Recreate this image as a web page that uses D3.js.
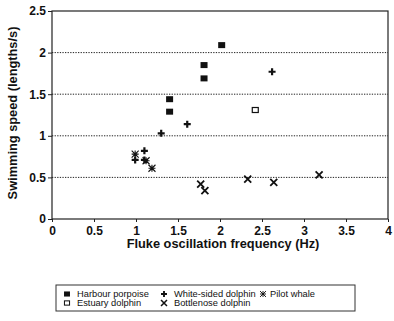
<!DOCTYPE html>
<html>
<head>
<meta charset="utf-8">
<script src="https://cdn.jsdelivr.net/npm/d3@7"></script>
<style>
  html, body { margin: 0; padding: 0; background: #fff; overflow: hidden; }
  text { font-family: "Liberation Sans", Arial, sans-serif; fill: #111; }
  .tick text { font-size: 12px; font-weight: bold; }
  .axis-label { font-size: 12.8px; font-weight: bold; }
  .legend text { font-size: 9.3px; }
</style>
</head>
<body>
<script>
'use strict';

// fluke frequency (Hz) / swimming speed (lengths/s), one pair of arrays per species
const harbourX = [1.40, 1.40, 1.81, 1.81, 2.02];
const harbourY = [1.44, 1.29, 1.85, 1.69, 2.09];
const estuaryX = [2.42];
const estuaryY = [1.31];
const whiteX = [2.62, 1.61, 1.30, 1.10, 0.99, 1.10];
const whiteY = [1.77, 1.14, 1.03, 0.82, 0.71, 0.71];
const pilotX = [0.99, 1.19, 1.12];
const pilotY = [0.78, 0.61, 0.70];
const bottleX = [1.77, 1.82, 2.33, 2.64, 3.18];
const bottleY = [0.42, 0.34, 0.48, 0.44, 0.53];

const xTicks = [0, 0.5, 1, 1.5, 2, 2.5, 3, 3.5, 4];
const yTicks = [0, 0.5, 1, 1.5, 2, 2.5];
const gridValues = [0.5, 1, 1.5, 2];

const series = [
  { name: 'Harbour porpoise', sym: 'square', xs: harbourX, ys: harbourY },
  { name: 'Estuary dolphin', sym: 'open', xs: estuaryX, ys: estuaryY },
  { name: 'White-sided dolphin', sym: 'plus', xs: whiteX, ys: whiteY },
  { name: 'Bottlenose dolphin', sym: 'cross', xs: bottleX, ys: bottleY },
  { name: 'Pilot whale', sym: 'star', xs: pilotX, ys: pilotY }
];

const W = 394, H = 321;
const m = { left: 52, top: 11, right: 388, bottom: 219 };

const svg = d3.select('body').append('svg').attr('width', W).attr('height', H);

const x = d3.scaleLinear().domain([0, 4]).range([m.left, m.right]);
const y = d3.scaleLinear().domain([0, 2.5]).range([m.bottom, m.top]);

// dotted grid
svg.append('g').selectAll('line').data(gridValues).enter().append('line')
    .attr('x1', m.left).attr('x2', m.right)
    .attr('y1', d => y(d)).attr('y2', d => y(d))
    .attr('stroke', '#222').attr('stroke-width', 1).attr('stroke-dasharray', '1.3,1.3');

// frame
svg.append('rect')
    .attr('x', m.left).attr('y', m.top)
    .attr('width', m.right - m.left).attr('height', m.bottom - m.top)
    .attr('fill', 'none').attr('stroke', '#222').attr('stroke-width', 1.2);

const fmt = d => d3.format('')(d);

const xAxis = svg.append('g')
    .attr('transform', `translate(0,${m.bottom})`)
    .call(d3.axisBottom(x).tickValues(xTicks).tickFormat(fmt).tickSize(3).tickPadding(4));
const yAxis = svg.append('g')
    .attr('transform', `translate(${m.left},0)`)
    .call(d3.axisLeft(y).tickValues(yTicks).tickFormat(fmt).tickSize(4).tickPadding(2));
[xAxis, yAxis].forEach(a => {
  a.select('.domain').remove();
  a.selectAll('.tick line').attr('stroke', '#222');
});

svg.append('text').classed('axis-label', true)
    .attr('text-anchor', 'middle')
    .attr('x', 223).attr('y', 248)
    .text('Fluke oscillation frequency (Hz)');
svg.append('text').classed('axis-label', true)
    .attr('text-anchor', 'middle')
    .attr('transform', 'translate(17,113) rotate(-90)')
    .text('Swimming speed (lengths/s)');

// marker drawing
function marker(g, sym) {
  if (sym === 'square') {
    g.append('rect').attr('x', -3.5).attr('y', -3).attr('width', 7).attr('height', 6).attr('fill', '#111');
  } else if (sym === 'open') {
    g.append('rect').attr('x', -3).attr('y', -2.5).attr('width', 6).attr('height', 5)
        .attr('fill', '#fff').attr('stroke', '#111').attr('stroke-width', 1.2);
  } else if (sym === 'plus') {
    g.append('path').attr('d', 'M -3.5 0 L 3.5 0 M 0 -3.5 L 0 3.5')
        .attr('stroke', '#111').attr('stroke-width', 2.2);
  } else if (sym === 'cross') {
    g.append('path').attr('d', 'M -3.5 -3.5 L 3.5 3.5 M -3.5 3.5 L 3.5 -3.5')
        .attr('stroke', '#111').attr('stroke-width', 1.8);
  } else if (sym === 'star') {
    g.append('path').attr('d', 'M -3.5 -3.5 L 3.5 3.5 M -3.5 3.5 L 3.5 -3.5 M 0 -3.5 L 0 3.5 M -3.5 0 L 3.5 0')
        .attr('stroke', '#111').attr('stroke-width', 1.1);
  }
}

const pts = svg.append('g');
series.forEach(s => {
  const data = s.xs.map((v, i) => [v, s.ys[i]]);
  pts.selectAll(null).data(data).enter().append('g')
      .attr('transform', d => `translate(${x(d[0])},${y(d[1])})`)
      .each(function () { marker(d3.select(this), s.sym); });
});

// legend
const lg = svg.append('g').classed('legend', true);
lg.append('rect').attr('x', 56).attr('y', 285).attr('width', 299).attr('height', 26)
    .attr('fill', 'none').attr('stroke', '#333').attr('stroke-width', 1);
const legendPos = [
  [67, 294], [67, 303], [164, 294], [164, 303], [263, 294]
];
series.forEach((s, i) => {
  const [lx, ly] = legendPos[i];
  const g = lg.append('g').attr('transform', `translate(${lx},${ly}) scale(0.85)`);
  marker(g, s.sym);
  lg.append('text').attr('x', lx + (i === 4 ? 7 : 10)).attr('y', ly + 3.2).text(s.name);
});
</script>
</body>
</html>
